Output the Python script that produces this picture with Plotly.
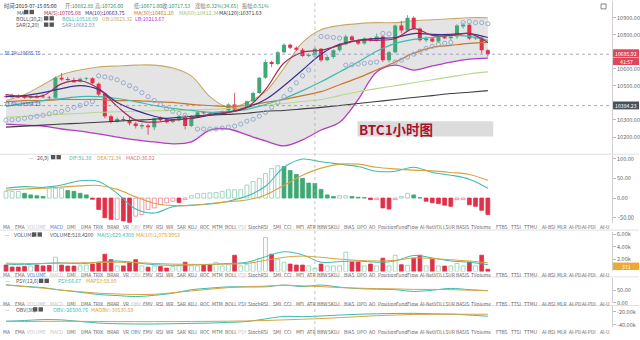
import plotly.graph_objects as go

# ---------------- hourly candles ----------------
OPEN = [10440, 10446, 10440, 10438, 10430, 10440, 10436, 10434, 10430, 10547,
        10540, 10534, 10524, 10540, 10545, 10512, 10455, 10322, 10290, 10305,
        10300, 10280, 10262, 10268, 10258, 10310, 10305, 10288, 10299, 10322,
        10264, 10316, 10345, 10340, 10336, 10342, 10356, 10391, 10362, 10374,
        10410, 10458, 10547, 10640, 10628, 10698, 10742, 10724, 10712, 10676,
        10682.88, 10717.53, 10651, 10669, 10709, 10744, 10790, 10767, 10749, 10778,
        10767, 10790, 10651, 10697, 10854, 10825, 10900, 10836, 10767, 10778,
        10760, 10790, 10780, 10790, 10848, 10858, 10778, 10782, 10709]
HIGH = [10452, 10455, 10450, 10448, 10446, 10448, 10450, 10442, 10556, 10576,
        10552, 10548, 10548, 10552, 10550, 10520, 10462, 10330, 10316, 10320,
        10318, 10290, 10280, 10276, 10316, 10320, 10312, 10304, 10326, 10330,
        10328, 10350, 10352, 10348, 10350, 10356, 10398, 10460, 10372, 10414,
        10466, 10552, 10655, 10648, 10705, 10750, 10748, 10732, 10722, 10690,
        10726, 10722, 10680, 10715, 10750, 10800, 10796, 10772, 10785, 10784,
        10808, 10796, 10705, 10860, 10882, 10915.28, 10908, 10842, 10790, 10784,
        10796, 10800, 10796, 10862, 10870, 10866, 10790, 10788, 10716]
LOW = [10428, 10430, 10428, 10425, 10424, 10426, 10428, 10420, 10426, 10530,
       10528, 10518, 10520, 10532, 10510, 10440, 10310, 10280, 10285, 10292,
       10268, 10250, 10248, 10212.36, 10240, 10290, 10280, 10280, 10292, 10245,
       10258, 10310, 10332, 10330, 10330, 10336, 10350, 10355, 10355, 10368,
       10404, 10452, 10540, 10610, 10620, 10690, 10716, 10705, 10670, 10668,
       10671, 10640, 10645, 10660, 10700, 10738, 10760, 10740, 10742, 10760,
       10760, 10640, 10638, 10690, 10810, 10818, 10830, 10760, 10755, 10755,
       10752, 10775, 10770, 10775, 10836, 10770, 10770, 10690, 10671]
CLOSE = [10436, 10434, 10432, 10430, 10440, 10432, 10434, 10430, 10547, 10538,
         10534, 10522, 10542, 10545, 10515, 10449, 10322, 10293, 10305, 10300,
         10281, 10264, 10270, 10258, 10310, 10299, 10287, 10299, 10322, 10264,
         10322, 10345, 10339, 10336, 10342, 10351, 10391, 10362, 10366, 10410,
         10458, 10547, 10640, 10628, 10698, 10742, 10724, 10712, 10676, 10682.88,
         10717.53, 10651, 10669, 10709, 10744, 10790, 10767, 10749, 10778, 10767,
         10790, 10651, 10697, 10854, 10825, 10900, 10836, 10767, 10778, 10760,
         10790, 10780, 10790, 10854, 10858, 10778, 10782, 10709, 10685.92]

# every third bar carries a point of the overlay lines
LINE_IDX = list(range(0, 79, 3))
BOLL_UB = [10414, 10449, 10507, 10565, 10593, 10611, 10617, 10622, 10622, 10605,
           10559, 10437, 10374, 10403, 10466, 10605, 10755, 10830, 10854, 10865,
           10871, 10871, 10882, 10888, 10894, 10900, 10900]
BOLL_LB = [10276, 10270, 10264, 10247, 10235, 10218, 10200, 10183, 10171, 10160,
           10171, 10241, 10247, 10212, 10177, 10148, 10183, 10241, 10287, 10420,
           10582, 10622, 10593, 10617, 10640, 10657, 10663]
BOLL_MID = [10380, 10397, 10414, 10426, 10437, 10437, 10426, 10408, 10385, 10368,
            10356, 10345, 10351, 10362, 10391, 10426, 10472, 10524, 10582, 10640,
            10703, 10749, 10773, 10784, 10796, 10790, 10767]
MA5 = [10449, 10437, 10443, 10512, 10530, 10484, 10380, 10299, 10287, 10299,
       10310, 10333, 10345, 10374, 10478, 10634, 10697, 10709, 10738, 10767,
       10767, 10778, 10836, 10796, 10796, 10807, 10755]
MA10 = [10437, 10443, 10460, 10484, 10501, 10478, 10403, 10356, 10322, 10304,
        10310, 10328, 10345, 10374, 10420, 10501, 10593, 10686, 10744, 10767,
        10778, 10784, 10807, 10802, 10802, 10807, 10784]
MA30 = [10408, 10414, 10414, 10420, 10420, 10420, 10414, 10414, 10408, 10403,
        10391, 10385, 10380, 10385, 10403, 10420, 10443, 10466, 10507, 10547,
        10593, 10640, 10692, 10726, 10738, 10749, 10755]
MA60 = [10316, 10322, 10328, 10333, 10339, 10345, 10348, 10351, 10354, 10356,
        10359, 10362, 10368, 10374, 10385, 10397, 10408, 10420, 10443, 10466,
        10484, 10501, 10518, 10536, 10553, 10570, 10582]
MA120 = [10258, 10264, 10270, 10276, 10281, 10287, 10293, 10299, 10304, 10313,
         10322, 10328, 10333, 10339, 10351, 10356, 10365, 10374, 10385, 10397,
         10408, 10420, 10432, 10443, 10455, 10463, 10472]

SAR = [10299, 10301, 10304, 10310, 10316, 10322, 10328, 10336, 10345, 10351,
       10362, 10374, 10385, 10397, 10408, 10559, 10553, 10547, 10536, 10518,
       10501, 10484, 10460, 10437, 10414, 10391, 10368, 10351, 10339, 10328,
       None, 10247, 10247, 10247, 10247, 10252, 10258, 10264, 10276, 10293,
       10304, 10322, 10345, 10374, 10403, 10437, 10478, 10518, 10559, 10593,
       10682.93, 10790, 10787, 10784, 10780, 10622, 10624, 10628, 10632, 10636,
       10640, 10808, 10805, 10640, 10651, 10669, 10686, 10703, 10720, 10732,
       10744, 10750, 10755, None, 10871, 10877, 10871, 10871, 10865]

# MACD(12,26,9)
MACD_HIST = [17, 17, 17, 12, 8, 6, 4, 25, 25, 25, 19, 17, 12, 8, -3, -29, -50, -54, -54, -58,
             -62, -46, -42, -29, -25, -17, -12, -8, -11, -4, 6, 11, 12, 13, 14, 17, 21, 21, 21, 33,
             42, 50, 62, 75, 82, 80, 70, 60, 50, 38, 36.92, 22, 8, 4, 6, 6, 4, 2, 1, -4,
             -4, -25, -28, -4, 4, 12, 8, 1, -8, -12, -14, -18, -21, -4, -4, -17, -21, -31, -42]
DIF = [25, 29, 27, 33, 44, 42, 12, -28, -38, -22, -18, -15, -8, 5, 30, 78, 99, 92,
       86, 80, 68, 68, 78, 65, 58, 48, 25]
DEA = [20, 23, 25, 28, 31, 32, 22, 3, -13, -19, -19, -14, -9, -5, 8, 32, 58, 76,
       86, 86, 78, 74, 71, 69, 65, 60, 45]

# VOLUME
VOLUME = [1040, 720, 720, 800, 880, 1040, 900, 950, 2320, 1040, 880, 880, 900, 1040, 1200, 1500,
          2800, 1920, 900, 900, 1520, 1920, 900, 700, 900, 800, 550, 800, 900, 1500, 900, 900,
          1000, 1040, 1500, 900, 1100, 2640, 900, 1100, 1500, 2100, 5520, 2800, 2000, 1500, 1200,
          1040, 1040, 900, 518.42, 1200, 900, 900, 900, 3120, 1520, 1520, 900, 1200, 900, 2160,
          900, 2640, 1100, 1000, 2160, 2640, 900, 2000, 900, 880, 900, 1300, 900, 1520, 900, 2640, 371]
VOL_MA5 = [1200, 1100, 1300, 1400, 1250, 1500, 1700, 1400, 1100, 1000, 1050, 1150, 1300, 1500,
           2400, 3200, 2700, 1500, 1600, 1700, 1500, 1700, 2600, 2200, 1700, 1500, 1100]
VOL_MA10 = [1350, 1300, 1300, 1350, 1400, 1450, 1500, 1450, 1300, 1200, 1150, 1150, 1200, 1300,
            1800, 2300, 2500, 2300, 2000, 1800, 1700, 1800, 2200, 2100, 1900, 1700, 1400]

# PSY(12,6)
PSY = [71, 65, 60, 50, 42, 33, 29, 25, 30, 38, 52, 58, 63, 63, 63, 70, 64, 70, 62, 56, 54, 52,
       45, 50, 57, 52, 48]
MAPSY = [70, 64, 58, 50, 44, 38, 35, 33, 34, 40, 47, 54, 60, 63, 66, 69, 67, 64, 60, 58, 56, 55,
         53, 53, 52, 50, 48]

# OBV(30)
OBV = [-34500, -33500, -32000, -32500, -35000, -37500, -38500, -39000, -39000, -38500, -38000,
       -37500, -36500, -35000, -31000, -27000, -27500, -26500, -25000, -23800, -23000, -22500,
       -22300, -23000, -23500, -25000, -26900]
MAOBV = [-35000, -35000, -34800, -34700, -34800, -35000, -35200, -35300, -35300, -35200, -35000,
         -34800, -34500, -34200, -33500, -32500, -31500, -30500, -29000, -27500, -26000, -25000,
         -24000, -23800, -23700, -23700, -23800]

PRICE_TICKS = [10200, 10300, 10500, 10600, 10800, 10900]

TABS = ["MA", "EMA", "VOLUME", "MACD", "DMI", "DMA", "TRIX", "BRAR", "VR", "OBV", "EMV", "RSI",
        "WR", "SAR", "KDJ", "ROC", "MTM", "BOLL", "PSY", "StochRSI", "SMI", "CCI", "MFI", "ATR",
        "BBW", "SKDJ", "BIAS", "DPO", "AO", "Position", "FundFlow", "AI-NetVOL", "LSUR", "BASIS",
        "TVolume", "FTBS", "TTSI", "TTMU", "AI-BSI", "MLR", "AI-PD", "AI-PDI", "AI-U"]
TAB_X = [7, 20, 37, 57, 72, 86, 98, 113, 126, 136, 148, 160, 170, 182, 193, 205, 218, 231, 243,
         258, 277, 288, 300, 312, 323, 335, 350, 363, 373, 388, 408, 432, 450, 463, 482, 503, 517,
         531, 549, 563, 576, 590, 605]

HOVER = 50
LAST_PRICE = CLOSE[-1]

# ---------------- geometry ----------------
FW, FH = 640, 340
PLOT_R = 613
FONT = "Noto Sans CJK SC, Noto Sans, sans-serif"
GREEN, RED = "#3fa874", "#e0304a"
GREEN_HOLLOW, RED_HOLLOW = "#8ccbb0", "#ec8190"


def fy(y):
    return 1 - y / FH


fig = go.Figure()
N = len(CLOSE)
IDX = list(range(N))
up = [c >= o for o, c in zip(OPEN, CLOSE)]

# Bollinger band cloud
fig.add_trace(go.Scatter(x=LINE_IDX, y=BOLL_LB, mode="lines", line=dict(color="#b53cc4", width=1.3, shape="spline"), yaxis="y"))
fig.add_trace(go.Scatter(x=LINE_IDX, y=BOLL_UB, mode="lines", fill="tonexty", fillcolor="rgba(205,205,205,0.55)",
                         line=dict(color="#c9aa62", width=1.1, shape="spline"), yaxis="y"))

# candle wicks and bodies
for flag, col in ((True, GREEN), (False, RED)):
    wx, wy, bx, by = [], [], [], []
    for i in IDX:
        if up[i] != flag:
            continue
        wx += [i, i, None]
        wy += [LOW[i], HIGH[i], None]
        lo, hi = min(OPEN[i], CLOSE[i]), max(OPEN[i], CLOSE[i])
        if hi - lo < 3:
            hi = lo + 3
        bx += [i, i, None]
        by += [lo, hi, None]
    fig.add_trace(go.Scatter(x=wx, y=wy, mode="lines", line=dict(color=col, width=0.8), yaxis="y"))
    fig.add_trace(go.Scatter(x=bx, y=by, mode="lines", line=dict(color=col, width=4), yaxis="y"))

for vals, col, w in ((MA120, "#3c3c3c", 1.1), (MA60, "#b7d98c", 1.1), (MA30, "#c8782e", 1.2),
                     (BOLL_MID, "#3dbbb0", 1.2), (MA10, "#3c2f8f", 1.2), (MA5, "#a8284f", 1.2)):
    fig.add_trace(go.Scatter(x=LINE_IDX, y=vals, mode="lines", line=dict(color=col, width=w, shape="spline"), yaxis="y"))

fig.add_trace(go.Scatter(x=IDX, y=SAR, mode="markers",
                         marker=dict(symbol="circle-open", size=4.2, color="#8fa6c9", line=dict(width=0.9)), yaxis="y"))

# MACD histogram: hollow bars while the bar grows, solid while it shrinks (sign-aware)
m_fill, m_line = [], []
for i, v in enumerate(MACD_HIST):
    prev = MACD_HIST[i - 1] if i else v
    hollow = v >= prev
    if v >= 0:
        m_fill.append("white" if hollow else GREEN)
        m_line.append(GREEN_HOLLOW if hollow else GREEN)
    else:
        m_fill.append("white" if hollow else RED)
        m_line.append(RED_HOLLOW if hollow else RED)
fig.add_trace(go.Bar(x=IDX, y=MACD_HIST, width=0.62, marker=dict(color=m_fill, line=dict(color=m_line, width=0.8)), yaxis="y2"))
fig.add_trace(go.Scatter(x=LINE_IDX, y=DIF, mode="lines", line=dict(color="#3dbbb0", width=1.1, shape="spline"), yaxis="y2"))
fig.add_trace(go.Scatter(x=LINE_IDX, y=DEA, mode="lines", line=dict(color="#d9a341", width=1.1, shape="spline"), yaxis="y2"))

# volume
v_fill = ["white" if u else RED for u in up]
v_line = [GREEN_HOLLOW if u else RED for u in up]
fig.add_trace(go.Bar(x=IDX, y=VOLUME, width=0.62, marker=dict(color=v_fill, line=dict(color=v_line, width=0.8)), yaxis="y3"))
fig.add_trace(go.Scatter(x=LINE_IDX, y=VOL_MA5, mode="lines", line=dict(color="#3dbbb0", width=1.0, shape="spline"), yaxis="y3"))
fig.add_trace(go.Scatter(x=LINE_IDX, y=VOL_MA10, mode="lines", line=dict(color="#d9a341", width=1.0, shape="spline"), yaxis="y3"))

# PSY
fig.add_trace(go.Scatter(x=LINE_IDX, y=PSY, mode="lines", line=dict(color="#3dbbb0", width=1.0, shape="spline"), yaxis="y4"))
fig.add_trace(go.Scatter(x=LINE_IDX, y=MAPSY, mode="lines", line=dict(color="#d9a341", width=1.0, shape="spline"), yaxis="y4"))

# OBV
fig.add_trace(go.Scatter(x=LINE_IDX, y=OBV, mode="lines", line=dict(color="#3dbbb0", width=1.0, shape="spline"), yaxis="y5"))
fig.add_trace(go.Scatter(x=LINE_IDX, y=MAOBV, mode="lines", line=dict(color="#d9a341", width=1.0, shape="spline"), yaxis="y5"))

tickfont = dict(size=5.5, color="#666", family=FONT)


def yax(top, bottom, rng, tickvals, ticktext=None):
    d = dict(domain=[fy(bottom), fy(top)], range=rng, side="right", anchor="x", showgrid=False,
             zeroline=False, showline=True, linecolor="#d0d0d0", linewidth=0.8, ticks="outside",
             ticklen=3, tickcolor="#bbb", tickfont=tickfont, tickvals=tickvals, fixedrange=True)
    if ticktext:
        d["ticktext"] = ticktext
    else:
        d["tickformat"] = ".2f"
    return d


fig.update_layout(
    width=FW, height=FH, margin=dict(l=0, r=0, t=0, b=0), paper_bgcolor="white", plot_bgcolor="white",
    showlegend=False, hovermode=False, barmode="overlay",
    xaxis=dict(domain=[0, PLOT_R / FW], range=[-0.97, 98.1], visible=False, fixedrange=True),
    yaxis=yax(0, 155, [10102, 10998], PRICE_TICKS),
    yaxis2=yax(156, 225, [-62.5, 110], [100, 50, 0, -50]),
    yaxis3=yax(234, 274.5, [0, 6480], [2000, 4000, 6000], ["2.00k", "4.00k", "6.00k"]),
    yaxis4=yax(281, 306.5, [0, 98], [0, 50]),
    yaxis5=yax(310, 331, [-43840, -11540], [-20000, -40000], ["-20.00k", "-40.00k"]),
)

ann, shapes = [], []


def text(x, y, s, color="#555", size=5.5, anchor="left", family=FONT):
    ann.append(dict(x=x / FW, y=fy(y), xref="paper", yref="paper", text=s, showarrow=False,
                    xanchor=anchor, yanchor="middle", font=dict(size=size, color=color, family=family)))


def rect(x0, y0, x1, y1, fill, line=None, lw=0.6):
    shapes.append(dict(type="rect", xref="paper", yref="paper", x0=x0 / FW, x1=x1 / FW,
                       y0=fy(y1), y1=fy(y0), fillcolor=fill,
                       line=dict(width=lw if line else 0, color=line or fill), layer="above"))


def hline_px(y, x0, x1, color, dash="solid", width=0.7):
    shapes.append(dict(type="line", xref="paper", yref="paper", x0=x0 / FW, x1=x1 / FW, y0=fy(y), y1=fy(y),
                       line=dict(color=color, width=width, dash=dash), layer="above"))


def icons(x, y):
    rect(x, y - 2.2, x + 4.4, y + 2.2, "#555")
    rect(x + 5.6, y - 2.2, x + 10, y + 2.2, "#555")


# panel separators
for yy in (155.5, 232.5, 280, 309):
    hline_px(yy, 0, FW, "#d8d8d8", width=0.8)

# price levels
for lvl, col in ((10685.75, "#8d93c0"), (10384.23, "#8d93c0")):
    shapes.append(dict(type="line", xref="paper", yref="y", x0=0, x1=PLOT_R / FW, y0=lvl, y1=lvl,
                       line=dict(color=col, width=0.8, dash="dot"), layer="above"))
text(2, 52, "38.2%:10685.75", "#3a4fb0", 5)
text(2, 104, "23.6%:10384.23", "#3a4fb0", 5)

# hover crosshair
shapes.append(dict(type="line", xref="x", yref="paper", x0=HOVER, x1=HOVER, y0=0, y1=1,
                   line=dict(color="#aaa", width=0.7, dash="dot"), layer="above"))

# right-hand badges
rect(614, 49, 640, 57, "#e0465a")
text(627, 53, f"{LAST_PRICE:.2f}", "white", 5.2, "center")
rect(614, 57.5, 640, 65, "#e0465a")
text(627, 61.2, "41:57", "white", 5.2, "center")
rect(614, 102, 640, 110, "#4a4f5c")
text(627, 106, "10384.23", "white", 5.2, "center")
rect(614, 265.5, 640, 273, "#f0a830")
text(627, 269.2, f"{VOLUME[-1]:.0f}", "white", 5.2, "center")

# chart title tag
rect(358, 122, 494, 137.5, "#dcdcdc")
text(358, 130, "<b>BTC1小时图</b>", "#a8122e", 13.5, "left")

# headline rows
g = "#3a9a6a"
text(2, 5, "<span style='color:#333'>时间:2019-07-15 05:00</span>", size=5.2)
text(63, 5, f"<span style='color:#777'>开:</span>{OPEN[HOVER]:.2f}", g, 5.2)
text(93, 5, f"<span style='color:#777'>高:</span>{HIGH[HOVER]:.2f}", g, 5.2)
text(132, 5, f"<span style='color:#777'>低:</span>{LOW[HOVER]:.2f}", g, 5.2)
text(160, 5, f"<span style='color:#777'>收:</span>{CLOSE[HOVER]:.2f}", g, 5.2)
text(193, 5, "<span style='color:#777'>涨幅:</span>0.32%(34.65)", g, 5.2)
text(240, 5, "<span style='color:#777'>振幅:</span>0.51%", g, 5.2)

text(15, 11.2, "MA", "#555", 5.2)
icons(24, 11.2)
text(42, 11.2, "MA(5):10705.08", "#a8284f", 5.2)
text(83, 11.2, "MA(10):10663.75", "#3c2f8f", 5.2)
text(132, 11.2, "MA(30):10461.10", "#c8782e", 5.2)
text(177, 11.2, "MA(60):10412.34", "#9cc46c", 5.2)
text(217, 11.2, "MA(120):10371.63", "#3c3c3c", 5.2)

text(14, 17.6, "BOLL(20,2)", "#555", 5.2)
icons(44, 17.6)
text(60, 17.6, "BOLL:10518.09", "#3dbbb0", 5.2)
text(100, 17.6, "UB:10823.32", "#c9aa62", 5.2)
text(133, 17.6, "LB:10213.67", "#b53cc4", 5.2)

text(14, 24, "SAR(2,20)", "#555", 5.2)
icons(44, 24)
text(60, 24, f"SAR:{SAR[HOVER]:.2f}", "#7f98c2", 5.2)

# sub panel headers
text(27, 158.5, "—", "#888", 5.2)
text(35, 158.5, "26,9)", "#555", 5.2)
icons(51, 158.5)
text(67, 158.5, "DIF:91.38", "#3dbbb0", 5.2)
text(95, 158.5, "DEA:72.34", "#d9a341", 5.2)
text(124, 158.5, f"MACD:{MACD_HIST[HOVER]:.2f}", "#e0708a", 5.2)

text(3, 237, "—", "#888", 5.2)
text(12, 237, "VOLUME", "#555", 5.2)
icons(32, 237)
text(48, 237, f"VOLUME:{VOLUME[HOVER]:.4f}", "#555", 5.2)
text(95, 237, "MA(5):629.4308", "#3dbbb0", 5.2)
text(134, 237, "MA(10):1,079.9953", "#d9a341", 5.2)

text(3, 284, "—", "#888", 5.2)
text(14, 284, "PSY(12,6)", "#555", 5.2)
icons(39, 284)
text(56, 284, "PSY:66.67", "#3dbbb0", 5.2)
text(84, 284, "MAPSY:58.80", "#d9a341", 5.2)

text(3, 313, "—", "#888", 5.2)
text(14, 313, "OBV(30)", "#555", 5.2)
icons(33, 313)
text(51, 313, "OBV:-26500.76", "#3dbbb0", 5.2)
text(89, 313, "MAOBV:-30530.59", "#d9a341", 5.2)

# indicator tab strips
strips = ((229, "MACD"), (278, "VOLUME"), (307.3, "PSY"), (335, "OBV"))
for yy, active in strips:
    for name, xx in zip(TABS, TAB_X):
        if name == active:
            col = "#3c7bd6"
        elif name in ("VOLUME", "MACD", "PSY", "OBV"):
            col = "#c4c4c4"
        else:
            col = "#666"
        text(xx, yy, name, col, 4.8, "center")

# expand icon top-right
rect(602, 3, 607, 8, "white", "#555", 0.7)

fig.update_layout(annotations=ann, shapes=shapes)
fig.write_html("out.html")
